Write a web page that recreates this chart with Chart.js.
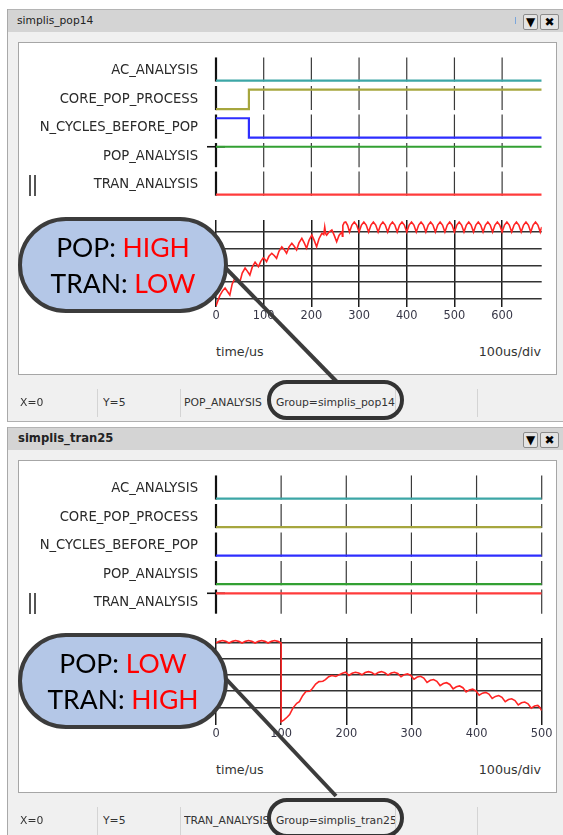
<!DOCTYPE html>
<html>
<head>
<meta charset="utf-8">
<title>simplis_pop14 / simplis_tran25</title>
<script src="https://cdn.jsdelivr.net/npm/chart.js@4.4.1/dist/chart.umd.min.js"></script>
<style>
  html, body { margin: 0; padding: 0; }
  body { width: 563px; height: 835px; position: relative; overflow: hidden; background: #fff;
         font-family: "DejaVu Sans", sans-serif; color: #222; }
  .win { position: absolute; left: 0; width: 563px; height: 418px; }
  .frame { position: absolute; left: 7px; top: 9px; width: 556px; height: 413px; box-sizing: border-box;
           background: #f0f0f0; border-left: 1px solid #a9a9a9; border-bottom: 1px solid #b0b0b0; }
  .title { position: absolute; left: 8px; top: 9px; width: 555px; height: 23px; box-sizing: border-box;
           background: #d4d4d4; border-top: 1px solid #b4b4b4; font-size: 10.7px; line-height: 21px; padding-left: 9px; }
  .title.active { font-weight: bold; font-size: 11.6px; padding-left: 10px; }
  .btn { position: absolute; top: 14px; height: 16px; box-sizing: border-box; border: 1px solid #8c8c8c; border-radius: 2px;
         background: #e4e4e4; font: bold 12px "DejaVu Sans", sans-serif; line-height: 14px; text-align: center; color: #000; }
  .mark { position: absolute; left: 515px; top: 17px; width: 1px; height: 7px; background: #7aa6dc; }
  .plot { position: absolute; left: 18px; top: 42px; width: 539px; height: 333px; box-sizing: border-box;
          background: #fff; border: 1px solid #a6a6a6; }
  canvas { position: absolute; left: 18px; }
  .bar2 { position: absolute; top: 175px; width: 1.5px; height: 21px; background: #555; }
  .note { position: absolute; top: 344px; font-size: 12.7px; color: #333; white-space: nowrap; }
  .status { position: absolute; top: 396px; font-size: 10.8px; color: #333; white-space: nowrap; overflow: hidden; }
  .sep { position: absolute; top: 389px; width: 1px; height: 28px; background: #d4d4d4; }
  svg.pointer { position: absolute; left: 0; top: 0; }
  .bubble { position: absolute; left: 18px; width: 210px; height: 96px; box-sizing: border-box;
            border: 4px solid #3c3c3c; border-radius: 48px; background: #b4c7e7;
            font-family: Lato, "Open Sans", sans-serif; font-size: 26.5px; line-height: 36px;
            padding-top: 8px; text-align: center; color: #000; }
  .bubble .hl { color: #ff0000; }
  .ring { position: absolute; left: 267px; top: 380px; width: 137px; height: 40px; box-sizing: border-box;
          border: 4px solid #333; border-radius: 20px; }
</style>
</head>
<body>

<div class="win" style="top:0">
  <div class="frame"></div>
  <div class="title">simplis_pop14</div>
  <div class="mark"></div>
  <div class="btn" style="left:523px;width:15px">&#9660;</div>
  <div class="btn" style="left:540px;width:19px">&#10006;</div>
  <div class="plot"></div>
  <canvas id="popLogic" width="539" height="173" style="top:40px"></canvas>
  <canvas id="popWave" width="539" height="118" style="top:212px"></canvas>
  <div class="bar2" style="left:29px"></div>
  <div class="bar2" style="left:34px"></div>
  <div class="note" style="left:216px">time/us</div>
  <div class="note" style="right:22px">100us/div</div>
  <div class="status" style="left:20px">X=0</div>
  <div class="status" style="left:103px">Y=5</div>
  <div class="status" style="left:184px;width:87px">POP_ANALYSIS</div>
  <div class="status" style="left:276px">Group=simplis_pop14</div>
  <div class="sep" style="left:97px"></div>
  <div class="sep" style="left:180px"></div>
  <div class="sep" style="left:395px"></div>
  <div class="sep" style="left:477px"></div>
  <svg class="pointer" width="563" height="418"><line x1="212" y1="254" x2="337" y2="382" stroke="#3c3c3c" stroke-width="4"/></svg>
  <div class="bubble" style="top:217px">POP: <span class="hl">HIGH</span><br>TRAN: <span class="hl">LOW</span></div>
  <div class="ring"></div>
</div>

<div class="win" style="top:418px">
  <div class="frame"></div>
  <div class="title active">simplis_tran25</div>
  <div class="btn" style="left:523px;width:15px">&#9660;</div>
  <div class="btn" style="left:540px;width:19px">&#10006;</div>
  <div class="plot"></div>
  <canvas id="tranLogic" width="539" height="173" style="top:40px"></canvas>
  <canvas id="tranWave" width="539" height="118" style="top:212px"></canvas>
  <div class="bar2" style="left:29px"></div>
  <div class="bar2" style="left:34px"></div>
  <div class="note" style="left:216px">time/us</div>
  <div class="note" style="right:22px">100us/div</div>
  <div class="status" style="left:20px">X=0</div>
  <div class="status" style="left:103px">Y=5</div>
  <div class="status" style="left:184px;width:87px">TRAN_ANALYSIS</div>
  <div class="status" style="left:276px">Group=simplis_tran25</div>
  <div class="sep" style="left:97px"></div>
  <div class="sep" style="left:180px"></div>
  <div class="sep" style="left:395px"></div>
  <div class="sep" style="left:477px"></div>
  <svg class="pointer" width="563" height="418"><line x1="212" y1="246" x2="336" y2="378" stroke="#3c3c3c" stroke-width="4"/></svg>
  <div class="bubble" style="top:215px">POP: <span class="hl">LOW</span><br>TRAN: <span class="hl">HIGH</span></div>
  <div class="ring"></div>
</div>

<script>
// digital rows, top to bottom
const rowNames = ['AC_ANALYSIS', 'CORE_POP_PROCESS', 'N_CYCLES_BEFORE_POP', 'POP_ANALYSIS', 'TRAN_ANALYSIS'];
const rowColors = ['#3ca6a6', '#a6a63e', '#2e2eff', '#33a033', '#ff3b3b'];
const gridLevels = [0, 1, 2, 3, 4];

// simplis_pop14
const popXTicks = [0, 100, 200, 300, 400, 500, 600];
const popXMax = 683;
const popLogicTimes = [[0, 683], [0, 69, 683], [0, 69, 683], [0, 683], [0, 683]];
const popLogicLevels = [[0, 0], [0, 1, 1], [1, 0, 0], [1, 1], [0, 0]];
const popCursorRow = 3;
const popYRange = [-0.48, 4.72];
const popTime = [
  0, 4, 8, 14, 19, 24, 29, 34, 40, 45, 50, 55, 61, 66, 71, 76, 82, 86, 89, 94,
  99, 103, 106, 111, 117, 122, 127, 132, 138, 143, 148, 153, 159, 164, 169, 174, 180, 185, 190, 195,
  201, 206, 211, 216, 222, 226, 228, 230, 232, 237, 243, 248, 253, 258, 264, 265, 266, 269, 272, 276,
  280, 285, 290, 295, 300, 305, 310, 315, 320, 325, 330, 335, 340, 345, 350, 355, 360, 365, 370, 375,
  380, 385, 390, 395, 400, 405, 410, 415, 420, 425, 430, 435, 440, 445, 450, 455, 460, 465, 470, 475,
  480, 485, 490, 495, 500, 505, 510, 515, 520, 525, 530, 535, 540, 545, 550, 555, 560, 565, 570, 575,
  580, 585, 590, 595, 600, 605, 610, 615, 620, 625, 630, 635, 640, 645, 650, 655, 660, 665, 670, 675,
  680, 683
];
const popVolt = [
  -0.42, -0.1, 0.2, 0.5, 0.66, 0.45, 0.24, 0.9, 1.25, 1.15, 1.0, 1.55, 1.85, 1.65, 1.43, 1.9, 2.2, 2.05, 1.93, 2.25,
  2.45, 2.35, 2.23, 2.55, 2.73, 2.6, 2.43, 2.85, 3.12, 2.95, 2.73, 3.1, 3.33, 3.15, 2.93, 3.35, 3.62, 3.35, 3.03, 3.5,
  3.82, 3.5, 3.12, 3.6, 3.92, 3.85, 4.3, 3.9, 3.82, 4.0, 4.12, 3.8, 3.42, 3.8, 4.02, 3.75, 4.4, 4.58, 4.6, 4.4,
  4.0, 4.42, 4.6, 4.42, 4.0, 4.42, 4.6, 4.42, 4.0, 4.42, 4.6, 4.42, 4.0, 4.42, 4.6, 4.42, 4.0, 4.42, 4.6, 4.42,
  4.0, 4.42, 4.6, 4.42, 4.0, 4.42, 4.6, 4.42, 4.0, 4.42, 4.6, 4.42, 4.0, 4.42, 4.6, 4.42, 4.0, 4.42, 4.6, 4.42,
  4.0, 4.42, 4.6, 4.42, 4.0, 4.42, 4.6, 4.42, 4.0, 4.42, 4.6, 4.42, 4.0, 4.42, 4.6, 4.42, 4.0, 4.42, 4.6, 4.42,
  4.0, 4.42, 4.6, 4.42, 4.0, 4.42, 4.6, 4.42, 4.0, 4.42, 4.6, 4.42, 4.0, 4.42, 4.6, 4.42, 4.0, 4.42, 4.6, 4.42,
  4.0, 4.3
];

// simplis_tran25
const tranXTicks = [0, 100, 200, 300, 400, 500];
const tranXMax = 500;
const tranLogicTimes = [[0, 500], [0, 500], [0, 500], [0, 500], [0, 500]];
const tranLogicLevels = [[0, 0], [0, 0], [0, 0], [0, 0], [1, 1]];
const tranCursorRow = 4;
const tranYRange = [-1.1, 4.31];
const tranTime = [
  0, 5, 10, 15, 20, 25, 30, 35, 40, 45, 50, 55, 60, 65, 70, 75, 80, 85, 90, 95, 100,
  100, 104, 109, 113, 118, 124, 128, 133, 138, 144, 148, 153, 158, 164, 168, 173, 178, 184, 188, 194, 199,
  204, 209, 214, 219, 224, 229, 234, 239, 244, 249, 254, 259, 264, 269, 274, 279, 284, 289, 294, 299,
  304, 309, 314, 319, 324, 329, 334, 339, 344, 349, 354, 359, 364, 369, 374, 379, 384, 389, 394, 399,
  404, 409, 414, 419, 424, 429, 434, 439, 444, 449, 454, 459, 464, 469, 474, 479, 484, 489, 494, 497, 500
];
const tranVolt = [
  4.0, 4.1, 4.15, 4.1, 4.0, 4.1, 4.15, 4.1, 4.0, 4.1, 4.15, 4.1, 4.0, 4.1, 4.15, 4.1, 4.0, 4.1, 4.15, 4.1, 4.0,
  -0.9, -0.8, -0.62, -0.45, -0.05, 0.25, 0.35, 0.72, 0.98, 1.0, 1.17, 1.45, 1.6, 1.62, 1.72, 1.9, 1.98, 1.92, 2.0, 2.12, 2.18,
  1.98, 2.12, 2.18, 2.13, 2.02, 2.16, 2.22, 2.16, 2.03, 2.16, 2.22, 2.15, 2.0, 2.13, 2.18, 2.1, 1.9, 2.03, 2.08, 1.98,
  1.75, 1.88, 1.93, 1.82, 1.55, 1.68, 1.73, 1.62, 1.35, 1.48, 1.53, 1.42, 1.15, 1.28, 1.33, 1.22, 0.95, 1.08, 1.13, 1.02,
  0.75, 0.88, 0.93, 0.82, 0.55, 0.68, 0.73, 0.62, 0.35, 0.48, 0.53, 0.42, 0.15, 0.28, 0.33, 0.22, -0.05, 0.08, 0.12, 0.0, -0.2
];

const uiFont = '"DejaVu Sans", sans-serif';
const HIGH = 0.68;      // logic high above the row baseline
const BAND = 0.81;      // height of the per-row division marks
const LABEL_UP = 0.34;  // row label position above the baseline

function rowLow(i) {
    return rowNames.length - 1 - i;
}

// short division marks inside each digital row
const rowTicks = {
    id: 'rowTicks',
    beforeDatasetsDraw(chart, args, opts) {
        const { ctx, scales: { x, y } } = chart;
        ctx.save();
        opts.values.forEach(v => {
            const px = x.getPixelForValue(v);
            rowNames.forEach((name, i) => {
                ctx.beginPath();
                ctx.lineWidth = v === 0 ? 2.2 : 1.2;
                ctx.strokeStyle = v === 0 ? '#111' : '#3a3a3a';
                ctx.moveTo(px, y.getPixelForValue(rowLow(i) + BAND));
                ctx.lineTo(px, y.getPixelForValue(rowLow(i)) + 1);
                ctx.stroke();
            });
        });
        ctx.restore();
    }
};

function drawLogic(id, times, levels, xTicks, xMax, cursorRow) {
    const datasets = rowNames.map((name, i) => ({
        label: name,
        data: times[i].map((t, k) => ({ x: t, y: rowLow(i) + levels[i][k] * HIGH })),
        borderColor: rowColors[i],
        borderWidth: 2.2,
        pointRadius: 0,
        stepped: 'before'
    }));
    // cursor cross at t = 0
    datasets.push({
        type: 'scatter',
        data: [{ x: 0, y: rowLow(cursorRow) + levels[cursorRow][0] * HIGH }],
        pointStyle: 'line',
        pointRadius: 9,
        borderColor: '#111',
        borderWidth: 1.6,
        clip: false
    });

    new Chart(document.getElementById(id), {
        type: 'line',
        data: { datasets },
        plugins: [rowTicks],
        options: {
            animation: false,
            responsive: false,
            events: [],
            layout: { padding: { top: 8, bottom: 8, right: 15.3 } },
            plugins: {
                legend: { display: false },
                tooltip: { enabled: false },
                rowTicks: { values: xTicks }
            },
            scales: {
                x: { type: 'linear', min: 0, max: xMax, display: false },
                y: {
                    min: -0.27,
                    max: 5.05,
                    afterBuildTicks: s => { s.ticks = rowNames.map((n, i) => ({ value: rowLow(i) + LABEL_UP })); },
                    afterFit: s => { s.width = 198; },
                    grid: { display: true, drawOnChartArea: false, drawTicks: true, tickLength: 18, tickColor: 'rgba(0,0,0,0)' },
                    border: { display: false },
                    ticks: {
                        autoSkip: false,
                        padding: 0,
                        color: '#2a2a2a',
                        font: { family: uiFont, size: 13.2 },
                        callback: (v, i) => rowNames[i]
                    }
                }
            }
        }
    });
}

function drawWave(id, time, volt, xTicks, xMax, yRange) {
    new Chart(document.getElementById(id), {
        type: 'line',
        data: {
            datasets: [{
                data: time.map((t, i) => ({ x: t, y: volt[i] })),
                borderColor: '#ff2424',
                borderWidth: 1.6,
                pointRadius: 0,
                tension: 0
            }]
        },
        options: {
            animation: false,
            responsive: false,
            events: [],
            layout: { padding: { top: 8, bottom: 3, right: 15.3 } },
            plugins: { legend: { display: false }, tooltip: { enabled: false } },
            scales: {
                x: {
                    type: 'linear',
                    min: 0,
                    max: xMax,
                    afterBuildTicks: s => { s.ticks = xTicks.map(v => ({ value: v })); },
                    afterFit: s => { s.height = 20; },
                    grid: { color: '#1c1c1c', lineWidth: 1.5, drawTicks: false },
                    border: { display: false },
                    ticks: { padding: 2.5, color: '#363646', font: { family: uiFont, size: 11.4 }, maxRotation: 0 }
                },
                y: {
                    min: yRange[0],
                    max: yRange[1],
                    afterBuildTicks: s => { s.ticks = gridLevels.map(v => ({ value: v })); },
                    afterFit: s => { s.width = 198; },
                    grid: { color: '#333', lineWidth: 1.6, drawTicks: false },
                    border: { display: false },
                    ticks: { display: false }
                }
            }
        }
    });
}

drawLogic('popLogic', popLogicTimes, popLogicLevels, popXTicks, popXMax, popCursorRow);
drawWave('popWave', popTime, popVolt, popXTicks, popXMax, popYRange);
drawLogic('tranLogic', tranLogicTimes, tranLogicLevels, tranXTicks, tranXMax, tranCursorRow);
drawWave('tranWave', tranTime, tranVolt, tranXTicks, tranXMax, tranYRange);
</script>
</body>
</html>
